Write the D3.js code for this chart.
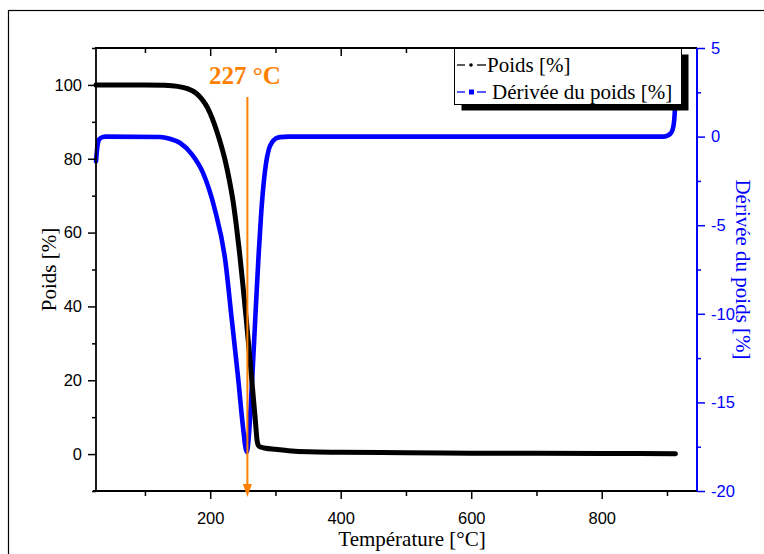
<!DOCTYPE html>
<html><head><meta charset="utf-8">
<script src="https://cdn.jsdelivr.net/npm/d3@7"></script>
<style>
html,body{margin:0;padding:0;background:#fff;}
svg{display:block;}
</style></head>
<body>
<svg id="chart" width="764" height="554"></svg>
<script>
// ---- Data ----
const poidsT = [25,100,130,150,165,178,188,196,203,210,217,223,229,235,240,245,250,255,260,265,269,272,274,277,285,300,320,350,400,500,600,700,800,913];
const poidsV = [100,100,99.9,99.6,99.0,97.8,96.0,93.8,91.0,87.5,83.5,79.5,74.5,68.5,62,54.5,46,37,27.5,17.5,9.5,3.5,2.3,1.9,1.6,1.3,0.9,0.6,0.5,0.35,0.25,0.2,0.15,0.1];
const derivT = [25,27,30,35,40,123,138,154,172,189,207,223,233,243,250,256,259,262,266,270,274,278,282,286,290,295,300,307,320,400,600,800,895,902,906,909,911,912.5,914];
const derivV = [-1.4,-0.6,-0.15,-0.03,0,-0.02,-0.12,-0.36,-1.0,-2.05,-4.1,-6.96,-10.3,-13.7,-16.3,-17.8,-17.0,-15.3,-12.5,-9.6,-6.8,-4.4,-2.6,-1.4,-0.7,-0.3,-0.12,-0.03,0,0,0,0,0,0.08,0.2,0.45,0.9,1.8,4];
const xMajor = [200,400,600,800];
const xMinor = [100,300,500,700,900];
const yLeftMajor = [0,20,40,60,80,100];
const yLeftMinor = [-10,10,30,50,70,90,110];
const yRightMajor = [-20,-15,-10,-5,0,5];
const yRightMinor = [-17.5,-12.5,-7.5,-2.5,2.5];
const legendLabels = ["Poids [%]","Dérivée du poids [%]"];
const annotationText = "227 °C";
const annotationT = 257;

// ---- Layout ----
const L = 96, R = 697, T = 48, B = 491;
const blue = "#0000FF", orange = "#FF8000";
const svg = d3.select("#chart");

const x = d3.scaleLinear().domain([25, 946]).range([L, R]);
const yL = d3.scaleLinear().domain([-10, 110]).range([B, T]);
const yR = d3.scaleLinear().domain([-20, 5]).range([B, T]);

// outer frame
svg.append("rect").attr("x",8.5).attr("y",10.5).attr("width",800).attr("height",600)
  .attr("fill","none").attr("stroke","#000").attr("stroke-width",1.2);

// curves
const derivData = derivT.map((t,i)=>({t, v: derivV[i]}));
const poidsData = poidsT.map((t,i)=>({t, v: poidsV[i]}));

svg.append("path").datum(derivData)
  .attr("fill","none").attr("stroke",blue).attr("stroke-width",4.6)
  .attr("stroke-linejoin","round").attr("stroke-linecap","round")
  .attr("d", d3.line().x(d=>x(d.t)).y(d=>yR(d.v)).curve(d3.curveMonotoneX));

svg.append("path").datum(poidsData)
  .attr("fill","none").attr("stroke","#000").attr("stroke-width",5)
  .attr("stroke-linejoin","round").attr("stroke-linecap","round")
  .attr("d", d3.line().x(d=>x(d.t)).y(d=>yL(d.v)).curve(d3.curveMonotoneX));

// axes
const sans = "Liberation Sans, Arial, sans-serif";
const tickFont = 16.5;
function styleAxis(g, color){
  g.select(".domain").remove();
  g.selectAll("line").attr("stroke", color).attr("stroke-width",1.5);
  g.selectAll("text").attr("fill", color).attr("font-family",sans).attr("font-size", tickFont);
}

// bottom
const gB = svg.append("g").attr("transform",`translate(0,${B})`);
gB.call(d3.axisBottom(x).tickValues(xMajor).tickSize(8).tickPadding(13).tickFormat(d3.format("d")));
styleAxis(gB, "#000");
const gBm = svg.append("g").attr("transform",`translate(0,${B})`);
gBm.call(d3.axisBottom(x).tickValues(xMinor).tickSize(5).tickFormat(""));
styleAxis(gBm, "#000");
svg.append("line").attr("x1",L-3).attr("x2",R).attr("y1",B).attr("y2",B).attr("stroke","#000").attr("stroke-width",2);

// top (inward ticks)
const gT = svg.append("g").attr("transform",`translate(0,${T})`);
gT.call(d3.axisBottom(x).tickValues(xMajor).tickSize(8).tickFormat(""));
styleAxis(gT, "#000");
const gTm = svg.append("g").attr("transform",`translate(0,${T})`);
gTm.call(d3.axisBottom(x).tickValues(xMinor).tickSize(5).tickFormat(""));
styleAxis(gTm, "#000");
svg.append("line").attr("x1",L-1).attr("x2",R).attr("y1",T).attr("y2",T).attr("stroke","#000").attr("stroke-width",2);

// left
const gL = svg.append("g").attr("transform",`translate(${L},0)`);
gL.call(d3.axisLeft(yL).tickValues(yLeftMajor).tickSize(8).tickPadding(6).tickFormat(d3.format("d")));
styleAxis(gL, "#000");
const gLm = svg.append("g").attr("transform",`translate(${L},0)`);
gLm.call(d3.axisLeft(yL).tickValues(yLeftMinor).tickSize(4).tickFormat(""));
styleAxis(gLm, "#000");
svg.append("line").attr("x1",L).attr("x2",L).attr("y1",T).attr("y2",B).attr("stroke","#000").attr("stroke-width",1.8);

// right
const gR = svg.append("g").attr("transform",`translate(${R},0)`);
gR.call(d3.axisRight(yR).tickValues(yRightMajor).tickSize(8).tickPadding(6).tickFormat(d=>d3.format("d")(d).replace("−","-")));
styleAxis(gR, blue);
const gRm = svg.append("g").attr("transform",`translate(${R},0)`);
gRm.call(d3.axisRight(yR).tickValues(yRightMinor).tickSize(4).tickFormat(""));
styleAxis(gRm, blue);
svg.append("line").attr("x1",R).attr("x2",R).attr("y1",T).attr("y2",B).attr("stroke",blue).attr("stroke-width",2);

// axis titles
const serif = "Liberation Serif, Times New Roman, serif";
const titleFont = 21;
svg.append("text").attr("x",412).attr("y",546).attr("text-anchor","middle")
  .attr("font-family",serif).attr("font-size",titleFont).attr("fill","#000").text("Température [°C]");
svg.append("text").attr("transform",`translate(56,${(T+B)/2}) rotate(-90)`).attr("text-anchor","middle")
  .attr("font-family",serif).attr("font-size",titleFont).attr("fill","#000").text("Poids [%]");
svg.append("text").attr("transform",`translate(736,${(T+B)/2}) rotate(90)`).attr("text-anchor","middle")
  .attr("font-family",serif).attr("font-size",titleFont).attr("fill",blue).text("Dérivée du poids [%]");

// annotation arrow
const ax = x(annotationT);
svg.append("line").attr("x1",ax).attr("x2",ax).attr("y1",97).attr("y2",486)
  .attr("stroke",orange).attr("stroke-width",2);
svg.append("path").attr("d",`M${ax-4.5},${484} L${ax+4.5},${484} L${ax},${497} Z`).attr("fill",orange);
svg.append("text").attr("x",209).attr("y",84).attr("font-family",serif).attr("font-weight","bold")
  .attr("font-size",25).attr("fill",orange).text(annotationText);

// legend
const lx = 454.5, ly = 48.5, lw = 227, lh = 56;
svg.append("rect").attr("x",lx+7).attr("y",ly+6).attr("width",lw).attr("height",lh).attr("fill","#000");
svg.append("rect").attr("x",lx).attr("y",ly).attr("width",lw).attr("height",lh).attr("fill","#fff").attr("stroke","#000").attr("stroke-width",1);
const legColors = ["#000", blue];
legendLabels.forEach((lab,i)=>{
  const cy = 65 + i*27;
  const c = legColors[i];
  svg.append("line").attr("x1",457).attr("x2",465).attr("y1",cy).attr("y2",cy).attr("stroke",c).attr("stroke-width",1.3);
  svg.append("line").attr("x1",477).attr("x2",486).attr("y1",cy).attr("y2",cy).attr("stroke",c).attr("stroke-width",1.3);
  if(i===0) svg.append("circle").attr("cx",471).attr("cy",cy).attr("r",1.8).attr("fill",c);
  else svg.append("rect").attr("x",469).attr("y",cy-2.5).attr("width",5).attr("height",5).attr("fill",c);
  svg.append("text").attr("x", i===0?487:492).attr("y",cy+7).attr("font-family",serif).attr("font-size",21)
    .attr("fill","#000").text(lab);
});
</script>
</body></html>
